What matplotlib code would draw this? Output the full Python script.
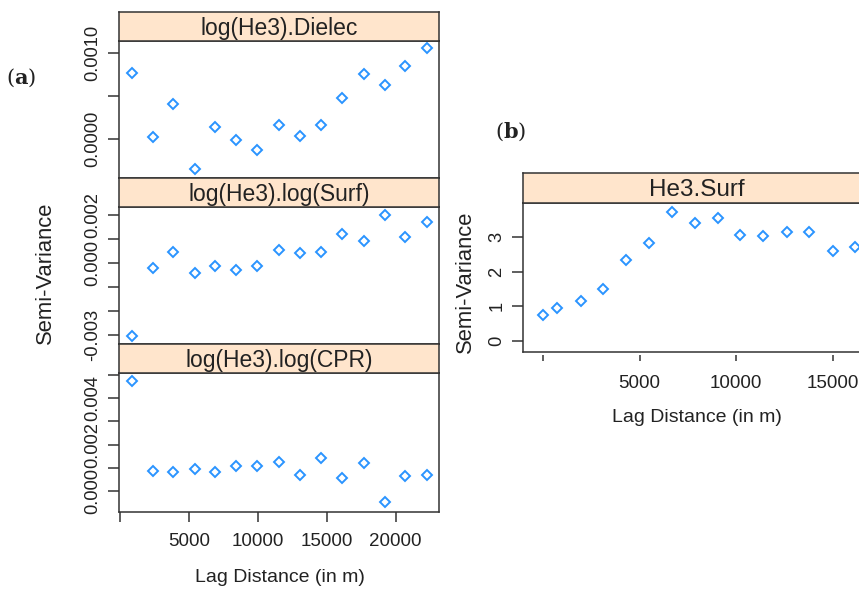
import matplotlib
matplotlib.use("Agg")
import matplotlib.pyplot as plt

plt.rcParams["font.family"] = ["Liberation Sans", "DejaVu Sans"]
plt.rcParams["mathtext.fontset"] = "dejavuserif"

# data
lag_a = [880, 2400, 3860, 5450, 6900, 8420, 9960, 11560, 13080, 14570,
         16090, 17670, 19190, 20640, 22300]
dielec = [0.000769, 0.000027, 0.000411, -0.000346, 0.000142, -0.000008,
          -0.000127, 0.000162, 0.000042, 0.000162, 0.00048, 0.00075,
          0.000627, 0.00085, 0.00105]
surf_log = [-0.00304, -0.000194, 0.000472, -0.000444, -0.000139, -0.000306,
            -0.000139, 0.000528, 0.000417, 0.000472, 0.00122, 0.000903,
            0.0020, 0.00108, 0.00169]
cpr = [0.004714, 0.000886, 0.000829, 0.000957, 0.000829, 0.00107, 0.00107,
       0.00126, 0.000714, 0.00144, 0.000586, 0.0012, -0.000471, 0.000643,
       0.000714]

lag_b = [0, 740, 1990, 3090, 4320, 5490, 6700, 7890, 9080, 10220, 11410,
         12620, 13790, 15030, 16170]
he3_surf = [0.733, 0.945, 1.138, 1.486, 2.344, 2.836, 3.733, 3.415, 3.559,
            3.058, 3.019, 3.145, 3.145, 2.604, 2.701]

titles_a = ["log(He3).Dielec", "log(He3).log(Surf)", "log(He3).log(CPR)"]
title_b = "He3.Surf"

x_ticks = [0, 5000, 10000, 15000, 20000]
x_labels = ["", "5000", "10000", "15000", "20000"]

W, H = 859, 590
STRIP = "#ffe5cc"
FRAME = "#333333"
DOT = "#2a94ff"
TXT = "#222222"

fig = plt.figure(figsize=(W / 100, H / 100), dpi=100)


def add_box(left, top, right, bottom):
    return fig.add_axes([left / W, 1 - bottom / H, (right - left) / W, (bottom - top) / H])


def fig_text(x, y, s, **kw):
    fig.text(x / W, 1 - y / H, s, color=TXT, **kw)


def strip(left, top, right, bottom, title, size):
    sa = add_box(left, top, right, bottom)
    sa.set_facecolor(STRIP)
    sa.set_xticks([])
    sa.set_yticks([])
    for sp in sa.spines.values():
        sp.set_color(FRAME)
        sp.set_linewidth(1.1)
    sa.text(0.5, 0.42, title, ha="center", va="center", fontsize=size,
            color=TXT, transform=sa.transAxes)


def style(ax):
    for sp in ax.spines.values():
        sp.set_color(FRAME)
        sp.set_linewidth(1.1)
    ax.tick_params(axis="y", direction="out", length=8, width=1.1, color=FRAME,
                   labelsize=13.2, labelcolor=TXT, pad=5, right=False)


# ---- panel (a): three stacked panels
panels = [(41, 178, dielec, (-0.000447, 0.001135), [0, 0.0005, 0.001],
           ["0.0000", "", "0.0010"]),
          (207, 344, surf_log, (-0.003389, 0.002333),
           [-0.003, -0.002, -0.001, 0, 0.001, 0.002],
           ["-0.003", "", "", "0.000", "", "0.002"]),
          (373, 512, cpr, (-0.000886, 0.005071),
           [0, 0.001, 0.002, 0.003, 0.004, 0.005],
           ["0.000", "", "0.002", "", "0.004", ""])]

for i, (top, bottom, vals, ylim, yt, yl) in enumerate(panels):
    ax = add_box(119.5, top, 438.5, bottom)
    strip(119.5, top - 29, 438.5, top, titles_a[i], 16.5)
    ax.plot(lag_a, vals, ls="none", marker="D", ms=5, mfc="none", mec=DOT, mew=1.4)
    ax.set_xlim(-15, 23100)
    ax.set_ylim(*ylim)
    style(ax)
    ax.set_yticks(yt)
    ax.set_yticklabels(yl, rotation=90, va="center")
    ax.set_xticks(x_ticks)
    if i == 2:
        ax.set_xticklabels(x_labels)
        ax.tick_params(axis="x", direction="out", length=7.2, width=1.1, color=FRAME,
                       labelsize=13.5, labelcolor=TXT, pad=8, top=False)
    else:
        ax.tick_params(axis="x", bottom=False, labelbottom=False, top=False)

fig_text(45, 273, "Semi-Variance", rotation=90, ha="center", va="center", fontsize=15.8)
fig_text(280, 578, "Lag Distance (in m)", ha="center", va="center", fontsize=14)
fig_text(21, 78, r"($\mathbf{a}$)", ha="center", va="center", fontsize=15,
         family="DejaVu Serif")

# ---- panel (b)
axb = add_box(523.3, 202.7, 871, 351.7)
strip(523.3, 173.3, 871, 202.7, title_b, 17.5)
axb.plot(lag_b, he3_surf, ls="none", marker="D", ms=5, mfc="none", mec=DOT, mew=1.4)
axb.set_xlim(-1018, 16977)
axb.set_ylim(-0.318, 3.993)
style(axb)
axb.set_yticks([0, 1, 2, 3])
axb.set_yticklabels(["0", "1", "2", "3"], rotation=90, va="center")
axb.set_xticks(x_ticks[:4])
axb.set_xticklabels(x_labels[:4])
axb.spines["bottom"].set_position(("outward", 2.2))
axb.spines["bottom"].set_visible(False)
axb.axhline(-0.318, color=FRAME, lw=1.1, clip_on=False)
axb.tick_params(axis="x", direction="out", length=4.3, width=1.1, color=FRAME,
                labelsize=13.5, labelcolor=TXT, pad=10, top=False)

fig_text(465, 282, "Semi-Variance", rotation=90, ha="center", va="center", fontsize=15.8)
fig_text(697, 417, "Lag Distance (in m)", ha="center", va="center", fontsize=14)
fig_text(511, 132, r"($\mathbf{b}$)", ha="center", va="center", fontsize=15,
         family="DejaVu Serif")

fig.savefig("out.png", dpi=100)
